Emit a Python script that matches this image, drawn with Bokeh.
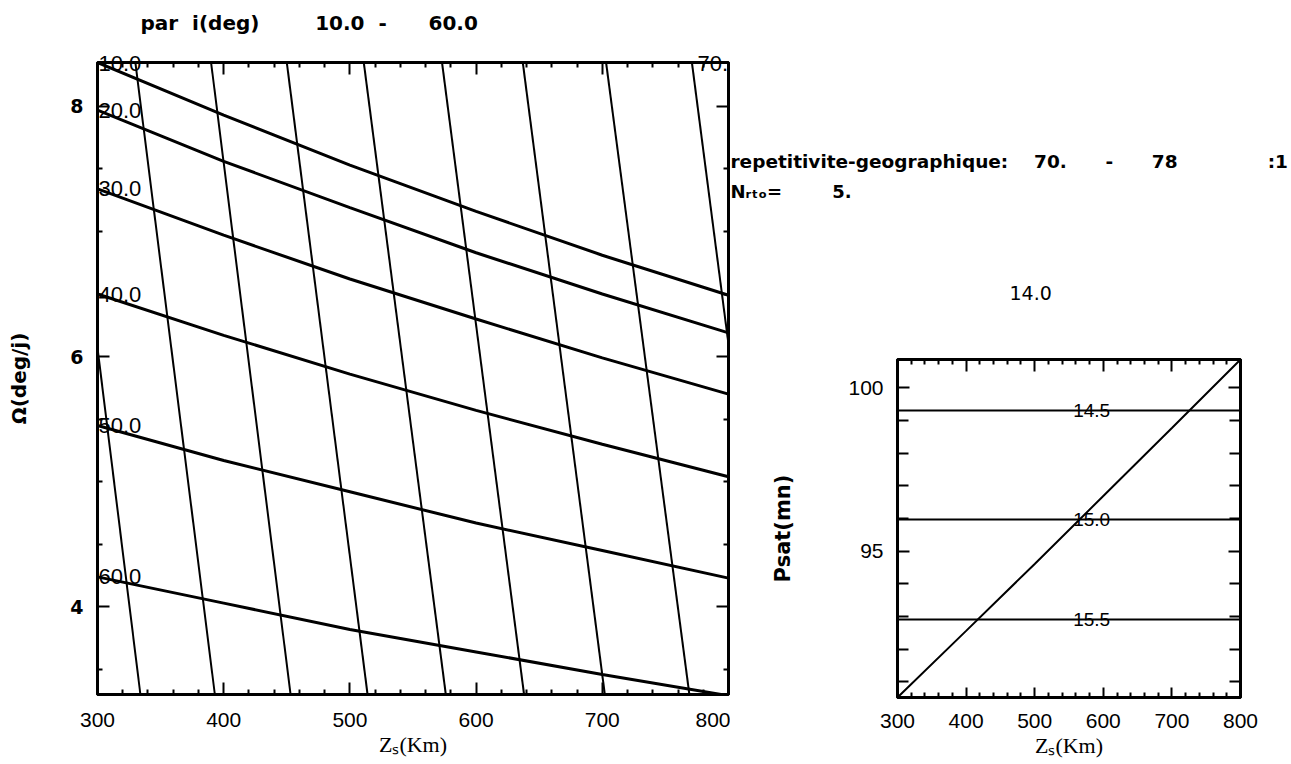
from bokeh.plotting import figure
from bokeh.models import Range1d, FixedTicker, LinearAxis, Label, Title, CustomJSTickFormatter
from bokeh.layouts import row, column
from bokeh.embed import file_html
from bokeh.resources import INLINE

# ---------------- data ----------------
alt_km = [300, 400, 500, 600, 700, 800]
incl_labels = ["10.0", "20.0", "30.0", "40.0", "50.0", "60.0"]
omega_i10 = [8.35, 7.93, 7.53, 7.16, 6.81, 6.49]
omega_i20 = [7.97, 7.56, 7.19, 6.83, 6.50, 6.19]
omega_i30 = [7.34, 6.97, 6.62, 6.30, 5.99, 5.70]
omega_i40 = [6.50, 6.17, 5.86, 5.57, 5.30, 5.04]
omega_i50 = [5.45, 5.17, 4.92, 4.67, 4.45, 4.23]
omega_i60 = [4.24, 4.03, 3.82, 3.64, 3.46, 3.29]
omega_series = [omega_i10, omega_i20, omega_i30, omega_i40, omega_i50, omega_i60]

# repetitivity lines (N = 70 .. 78 orbits in 5 days)
rep_N = [70, 71, 72, 73, 74, 75, 76, 77, 78]
rep_days = 5
rep_omega_ends = [8.35, 3.30]
rep_alt_top = [771, 703, 637, 573, 511, 450, 390, 330, 272]
rep_alt_bottom = [836, 769, 702, 638, 576, 514, 453, 393, 334]

# right panel : satellite period vs altitude
psat_alt = [300, 400, 500, 600, 700, 800]
psat_min = [90.52, 92.56, 94.61, 96.69, 98.77, 100.87]
rev_labels = ["14.0", "14.5", "15.0", "15.5"]
rev_period = [102.86, 99.31, 95.97, 92.91]

x_ticks = [300, 400, 500, 600, 700, 800]
x_minor = [v for v in range(300, 801, 20) if v % 100]
left_y_ticks = [4, 6, 8]
left_y_minor = [3.5, 4.5, 5.0, 5.5, 6.5, 7.0, 7.5]
right_y_ticks = [95, 100]
right_y_minor = [91, 92, 93, 94, 96, 97, 98, 99]

SANS = "Liberation Sans"
BOLD = "DejaVu Sans"
NB = "\u00a0"
blank = CustomJSTickFormatter(code="return ''")


def style_axis(ax, major_in=12, minor_in=5):
    ax.major_tick_in = major_in
    ax.major_tick_out = 0
    ax.minor_tick_in = minor_in
    ax.minor_tick_out = 0
    ax.axis_line_width = 3
    ax.axis_line_color = "black"
    ax.major_tick_line_width = 2
    ax.minor_tick_line_width = 2
    ax.major_label_text_color = "black"
    ax.axis_label_text_color = "black"


def add_frame_axes(p, xt, yt, minor_in_y=5):
    top = LinearAxis(ticker=xt, formatter=blank, major_label_standoff=0)
    right = LinearAxis(ticker=yt, formatter=blank, major_label_standoff=0)
    style_axis(top)
    style_axis(right, minor_in=minor_in_y)
    p.add_layout(top, "above")
    p.add_layout(right, "right")


def lab(x, y, text, size="20px", font=BOLD, style="bold", align="left", **kw):
    return Label(x=x, y=y, text=text, text_align=align, text_baseline="middle",
                 text_font=font, text_font_style=style, text_font_size=size,
                 text_color="black", **kw)


def ttl(text, offset, standoff, size, font=BOLD, style="bold"):
    return Title(text=text, align="left", offset=offset, standoff=standoff,
                 text_font=font, text_font_style=style, text_font_size=size,
                 text_color="black")


# ---------------- left figure ----------------
p = figure(width=730, height=764, x_range=Range1d(300, 800), y_range=Range1d(3.30, 8.35),
           output_backend="svg", toolbar_location=None,
           min_border_left=97, min_border_right=2, min_border_top=62, min_border_bottom=70,
           x_axis_label="Zₛ(Km)", y_axis_label="Ω(deg/j)")
p.xgrid.visible = False
p.ygrid.visible = False
p.outline_line_color = "black"
p.outline_line_width = 3
p.background_fill_color = "white"
p.border_fill_color = "white"

xt = FixedTicker(ticks=x_ticks, minor_ticks=x_minor)
yt = FixedTicker(ticks=left_y_ticks, minor_ticks=left_y_minor)
p.xaxis.ticker = xt
p.yaxis.ticker = yt
style_axis(p.xaxis[0])
style_axis(p.yaxis[0])
p.xaxis.major_label_text_font = SANS
p.xaxis.major_label_text_font_size = "21px"
p.xaxis.major_label_standoff = 18
p.xaxis.axis_label_text_font = "Liberation Serif"
p.xaxis.axis_label_text_font_size = "22px"
p.xaxis.axis_label_text_font_style = "normal"
p.xaxis.axis_label_standoff = 2
p.yaxis.major_label_text_font = BOLD
p.yaxis.major_label_text_font_style = "bold"
p.yaxis.major_label_text_font_size = "19px"
p.yaxis.major_label_standoff = 14
p.yaxis.axis_label_text_font = BOLD
p.yaxis.axis_label_text_font_style = "bold"
p.yaxis.axis_label_text_font_size = "20px"
p.yaxis.axis_label_standoff = 36
add_frame_axes(p, xt, yt)

for ys in omega_series:
    p.line(alt_km, ys, line_color="black", line_width=3)
for ys, txt in zip(omega_series[1:], incl_labels[1:]):
    p.add_layout(lab(alt_km[0], ys[0], txt, size="22px", font=SANS, style="normal", x_offset=1))

p.multi_line(xs=[[t, b] for t, b in zip(rep_alt_top, rep_alt_bottom)],
             ys=[rep_omega_ends for _ in rep_N], line_color="black", line_width=2)

# texts above the left frame (stacked titles, from the frame outward)
edge_text = incl_labels[0] + NB * 91 + f"{rep_N[0]}."
p.add_layout(ttl(edge_text, 1, -26, "22px", font=SANS, style="normal"), "above")
p.add_layout(ttl(NB, 0, 1, "20px"), "above")
header_text = ("par" + NB * 2 + "i(deg)" + NB * 8 + incl_labels[0] + NB * 2 + "-" + NB * 6
               + incl_labels[-1])
p.add_layout(ttl(header_text, 43, 0, "20px"), "above")

# ---------------- right figure ----------------
q = figure(width=561, height=764, x_range=Range1d(300, 800), y_range=Range1d(90.52, 100.87),
           output_backend="svg", toolbar_location=None,
           min_border_left=167, min_border_right=51, min_border_top=359, min_border_bottom=67,
           x_axis_label="Zₛ(Km)", y_axis_label="Psat(mn)")
q.xgrid.visible = False
q.ygrid.visible = False
q.outline_line_color = "black"
q.outline_line_width = 3
q.background_fill_color = "white"
q.border_fill_color = "white"

qxt = FixedTicker(ticks=x_ticks, minor_ticks=x_minor)
qyt = FixedTicker(ticks=right_y_ticks, minor_ticks=right_y_minor)
q.xaxis.ticker = qxt
q.yaxis.ticker = qyt
style_axis(q.xaxis[0], major_in=10, minor_in=5)
style_axis(q.yaxis[0], major_in=12, minor_in=11)
q.xaxis.major_label_text_font = SANS
q.xaxis.major_label_text_font_size = "21px"
q.xaxis.major_label_standoff = 16
q.xaxis.axis_label_text_font = "Liberation Serif"
q.xaxis.axis_label_text_font_size = "22px"
q.xaxis.axis_label_text_font_style = "normal"
q.xaxis.axis_label_standoff = 2
q.yaxis.major_label_text_font = SANS
q.yaxis.major_label_text_font_size = "21px"
q.yaxis.major_label_standoff = 14
q.yaxis.axis_label_text_font = BOLD
q.yaxis.axis_label_text_font_style = "bold"
q.yaxis.axis_label_text_font_size = "21px"
q.yaxis.axis_label_standoff = 50
add_frame_axes(q, qxt, qyt, minor_in_y=11)

q.line(psat_alt, psat_min, line_color="black", line_width=2)
for txt, per in zip(rev_labels[1:], rev_period[1:]):
    q.line([300, 800], [per, per], line_color="black", line_width=2)
    q.add_layout(lab(583, per, txt, size="19px", font=SANS, style="normal", align="center"))

# texts above the right frame (stacked titles, from the frame outward)
q.add_layout(ttl(rev_labels[0], 112, 119, "19px", style="normal"), "above")
q.add_layout(ttl(NB, 0, 1.4, "14px"), "above")
n_text = "N\u1d63\u209c\u2092=" + NB * 8 + f"{rep_days}."
q.add_layout(ttl(n_text, -167, 8, "18px"), "above")
info_text = ("repetitivite-geographique:" + NB * 4 + f"{rep_N[0]}." + NB * 6 + "-" + NB * 6
             + f"{rep_N[-1]}" + NB * 14 + ":1")
q.add_layout(ttl(info_text, -167, 6, "18.5px"), "above")

layout = row(column(p), column(q), spacing=0)
open("out.html", "w").write(file_html(layout, INLINE))
